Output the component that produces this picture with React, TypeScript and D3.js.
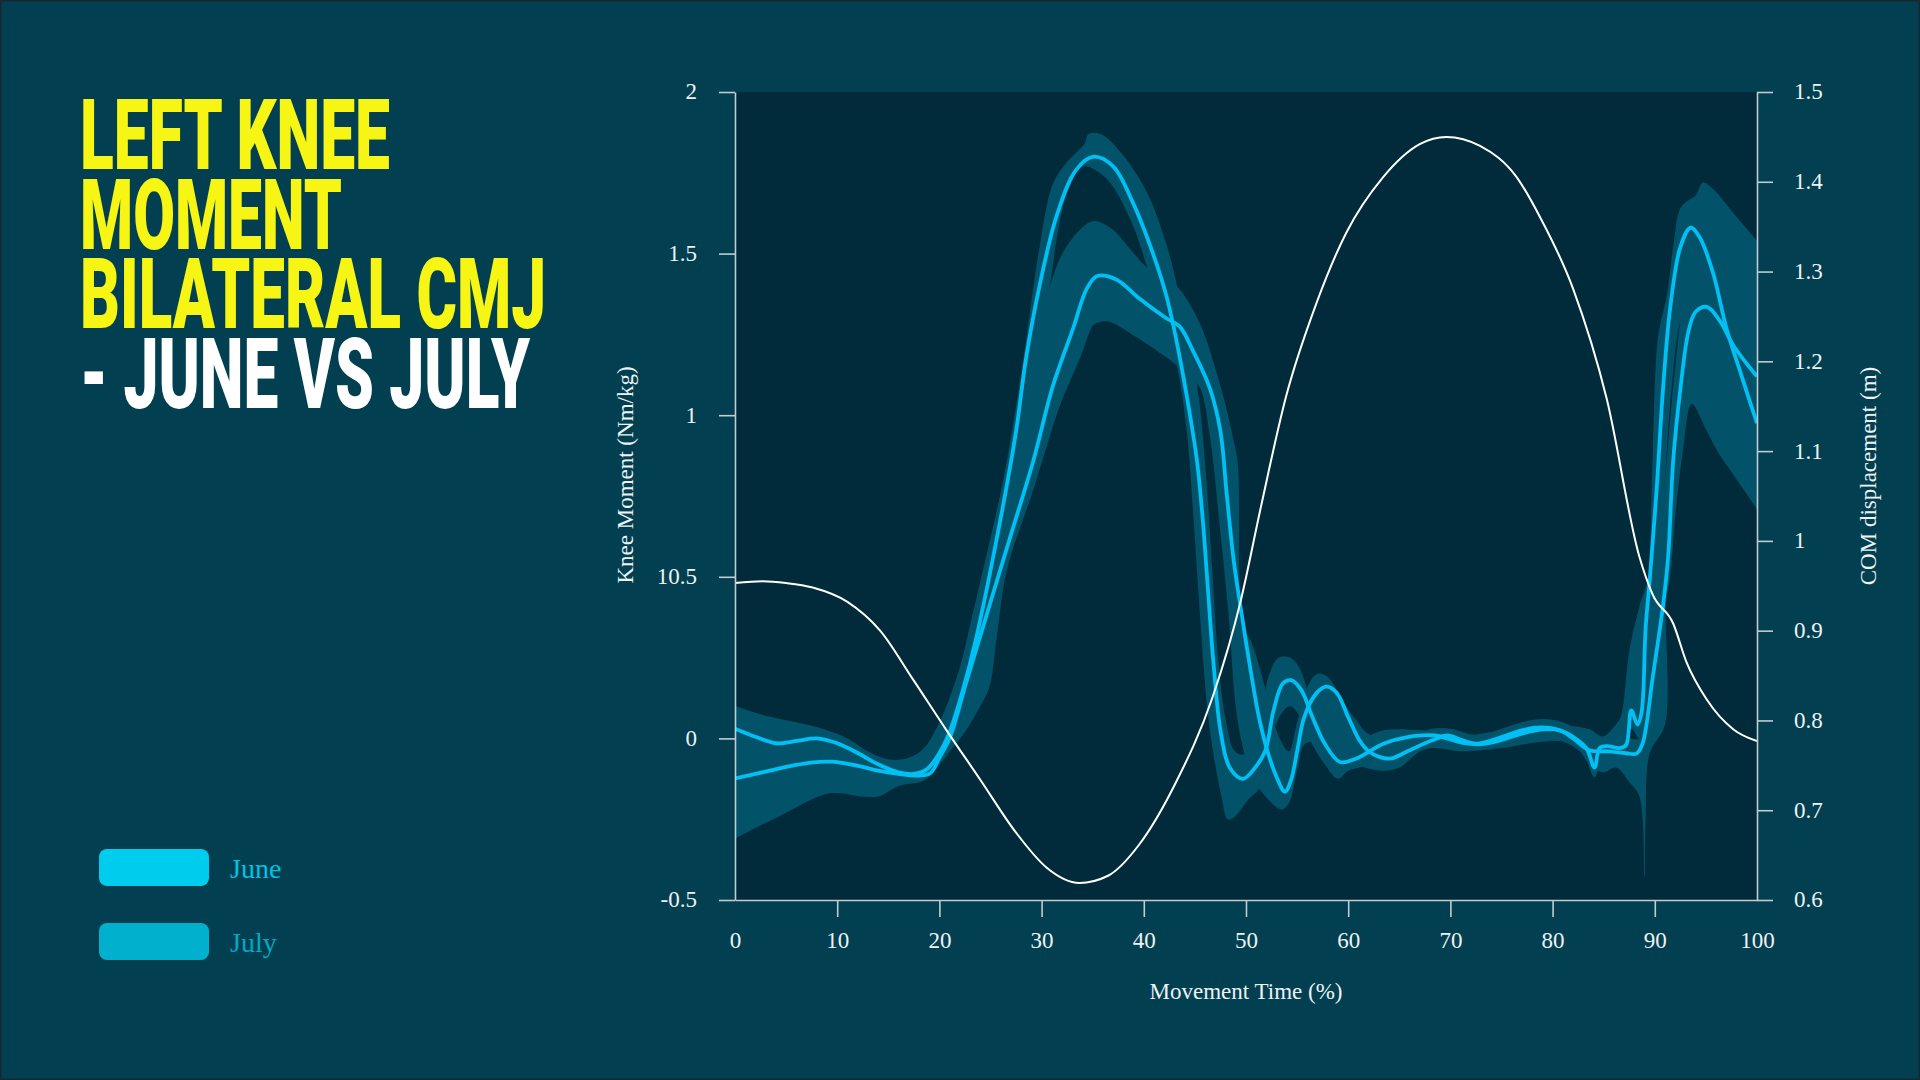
import * as d3 from "d3";
import React, { useEffect, useRef } from "react";

type Pt = [number, number];

// axis ticks
const xTicks = [0, 10, 20, 30, 40, 50, 60, 70, 80, 90, 100];
const leftTicks = [-0.5, 0, 0.5, 1, 1.5, 2];
const leftTickLabels = ["-0.5", "0", "10.5", "1", "1.5", "2"];
const rightTicks = [0.6, 0.7, 0.8, 0.9, 1, 1.1, 1.2, 1.3, 1.4, 1.5];
const rightTickLabels = ["0.6", "0.7", "0.8", "0.9", "1", "1.1", "1.2", "1.3", "1.4", "1.5"];

const titleLines = ["LEFT KNEE", "MOMENT", "BILATERAL CMJ", "- JUNE VS JULY"];
const legendLabels = ["June", "July"];

// knee moment (Nm/kg) vs movement time (%)
const juneLine: Pt[] = [
  [0, 0.03], [2, 0.005], [4, -0.015], [6, -0.008], [8, 0.0], [10, -0.015], [12, -0.045],
  [14, -0.08], [16, -0.105], [17.5, -0.11], [18.8, -0.095], [20, -0.045], [21, 0.02],
  [22.3, 0.15], [23.6, 0.31], [25.9, 0.665], [27.5, 0.95], [28.5, 1.18], [29.8, 1.4],
  [31.5, 1.62], [33.4, 1.76], [35.1, 1.8], [37, 1.77], [38.9, 1.66], [40.9, 1.5], [42.2, 1.37],
  [43.2, 1.23], [44.2, 1.06], [45.2, 0.86], [45.8, 0.665], [46.3, 0.45], [46.8, 0.24],
  [47.5, 0.025], [48.4, -0.09], [49.7, -0.125], [50.9, -0.09], [51.9, -0.037], [52.7, 0.087],
  [53.6, 0.17], [54.4, 0.18], [55.4, 0.15], [56.5, 0.066], [57.7, -0.016], [59.2, -0.073],
  [60.8, -0.062], [63.5, -0.016], [65.8, 0.004], [68.5, 0.009], [71.2, -0.014], [73, -0.018],
  [75, -0.005], [77, 0.015], [79, 0.028], [80.7, 0.025], [82, 0.005], [83.3, -0.03],
  [84.1, -0.09], [84.6, -0.03], [85.3, -0.024], [86.6, -0.03], [87.2, -0.02], [87.7, 0.087],
  [88.3, 0.043], [88.7, 0.08], [89.1, 0.34], [89.5, 0.49], [90.2, 0.78], [90.8, 1.08],
  [91.5, 1.33], [92.5, 1.52], [93.5, 1.58], [94.4, 1.55], [95.7, 1.44], [97, 1.27],
  [98.3, 1.14], [100, 0.975],
];

const julyLine: Pt[] = [
  [0, -0.124], [2, -0.11], [3.4, -0.1], [5.5, -0.085], [7.6, -0.074], [9.5, -0.072],
  [10.9, -0.078], [12.5, -0.088], [14, -0.1], [16, -0.11], [18, -0.115], [19.1, -0.108],
  [20, -0.06], [21, 0.0], [22.6, 0.17], [24.6, 0.38], [26.9, 0.62], [29.2, 0.86], [31.1, 1.09],
  [33.1, 1.27], [34.4, 1.39], [35.4, 1.43], [37.3, 1.42], [39.6, 1.36], [42.2, 1.3],
  [43.5, 1.275], [44.8, 1.2], [46.5, 1.08], [47.5, 0.95], [48.1, 0.76], [48.8, 0.55],
  [49.5, 0.4], [50.4, 0.22], [51.3, 0.06], [52.2, -0.05], [53, -0.12], [53.8, -0.165],
  [54.4, -0.13], [55, -0.04], [55.7, 0.066], [56.9, 0.14], [57.9, 0.16], [58.9, 0.14],
  [60, 0.066], [61.1, -0.006], [61.9, -0.037], [63.1, -0.058], [64.2, -0.062], [65.8, -0.04],
  [68.2, -0.006], [69.7, 0.009], [71.2, -0.006], [72.7, -0.016], [75, 0.004], [77, 0.025],
  [78.9, 0.034], [80.7, 0.025], [82, 0.0], [83.6, -0.037], [85.5, -0.04], [87.2, -0.046],
  [88.2, -0.047], [88.8, -0.016], [89.8, 0.19], [90.8, 0.41], [91.3, 0.56], [91.8, 0.86],
  [92.5, 1.08], [93.3, 1.26], [94, 1.32], [95.1, 1.335], [96.4, 1.29], [97.7, 1.215],
  [100, 1.12],
];

// spread bands (upper / lower edge)
const juneBandHi: Pt[] = [
  [0, 0.1], [3, 0.07], [6, 0.05], [8, 0.035], [11, 0.0], [13, -0.04], [15, -0.065], [17, -0.06],
  [18.5, -0.03], [20, 0.05], [21.5, 0.17], [22.7, 0.3], [24.6, 0.55], [26.6, 0.86], [28.2, 1.17],
  [29.8, 1.52], [31.1, 1.715], [32.4, 1.78], [34.2, 1.84], [34.6, 1.87], [35.8, 1.87],
  [37.7, 1.815], [40.3, 1.69], [42.2, 1.53], [43.4, 1.38], [44.6, 1.2], [45.4, 1.05],
  [46.1, 0.81], [46.7, 0.52], [47.3, 0.24], [48, 0.06], [48.9, -0.04], [49.8, -0.05],
  [50.8, -0.01], [51.5, 0.08], [52.3, 0.2], [53.2, 0.25], [54.3, 0.25], [55.2, 0.22],
  [56.3, 0.12], [57.5, 0.03], [58.8, -0.03], [60, -0.02], [61.5, 0.0], [63.5, 0.025],
  [67.3, 0.025], [71.2, 0.009], [75, 0.025], [78.9, 0.046], [81.5, 0.04], [83.6, 0.028],
  [84.9, 0.006], [86.2, 0.043], [86.7, 0.07], [87.5, 0.27], [88.5, 0.41], [89.3, 0.49],
  [89.7, 0.78], [90.1, 1.16], [90.4, 1.26], [91.2, 1.375], [91.8, 1.52], [92.5, 1.64],
  [93.3, 1.665], [94, 1.68], [94.7, 1.72], [95.7, 1.7], [97.7, 1.625], [100, 1.54],
];

const juneBandLo: Pt[] = [
  [0, -0.05], [3, -0.08], [6, -0.07], [9, -0.06], [12, -0.09], [15, -0.13], [17, -0.14],
  [18.5, -0.13], [19.5, -0.1], [21, -0.04], [22.6, 0.05], [24, 0.25], [26, 0.55], [28, 0.95],
  [29.5, 1.2], [30.8, 1.4], [31.5, 1.55], [32.4, 1.68], [33.4, 1.75], [34.2, 1.77], [36.4, 1.73],
  [38.9, 1.59], [40.3, 1.46], [41.5, 1.35], [43.2, 1.16], [44.2, 0.95], [44.9, 0.665],
  [45.5, 0.38], [46.2, 0.096], [46.8, -0.046], [47.6, -0.18], [48.2, -0.25], [48.8, -0.245],
  [50.2, -0.19], [51.4, -0.15], [52.2, -0.05], [53, 0.05], [54.3, 0.1], [55.4, 0.06],
  [56.5, -0.02], [57.7, -0.08], [59, -0.125], [60, -0.1], [61.6, -0.085], [63.5, -0.05],
  [66, -0.04], [68.5, -0.03], [71, -0.04], [75, -0.03], [79, -0.01], [81, -0.01], [83, -0.05],
  [84.1, -0.12], [85, -0.06], [86.6, -0.06], [87.7, 0.03], [88.5, 0.0], [89.5, 0.1],
  [90.3, 0.45], [91, 0.8], [91.7, 1.1], [92.6, 1.3], [93.6, 1.35], [95, 1.25], [97, 1.05],
  [100, 0.8],
];

const julyBandHi: Pt[] = [
  [0, 0.0], [4, -0.01], [8, 0.0], [12, -0.03], [15, -0.07], [17, -0.08], [18.5, -0.06],
  [20, 0.02], [21.5, 0.15], [23, 0.35], [25, 0.62], [27, 0.9], [29, 1.2], [30.8, 1.4],
  [32.4, 1.52], [35, 1.6], [36.9, 1.575], [38.5, 1.52], [40.2, 1.46], [42, 1.42], [43.2, 1.4],
  [45.4, 1.29], [47.5, 1.09], [48.8, 0.92], [49.2, 0.85], [49.35, 0.5], [49.6, 0.35],
  [50.5, 0.3], [51.5, 0.2], [52.5, 0.08], [53.3, 0.0], [54.2, -0.04], [55, 0.05], [56, 0.16],
  [57, 0.2], [58, 0.19], [59.6, 0.108], [60.8, 0.056], [61.9, 0.015], [63.5, 0.0],
  [65.8, 0.0], [68.2, 0.03], [70, 0.03], [72.7, 0.01], [75, 0.03], [77, 0.05], [79, 0.06],
  [81, 0.05], [83, 0.02], [85.5, 0.0], [87.5, 0.0], [88.5, 0.0], [89, 0.05], [90, 0.45],
  [91, 0.8], [92, 1.15], [93, 1.38], [94, 1.45], [95.5, 1.45], [97, 1.4], [100, 1.3],
];

const julyBandLo: Pt[] = [
  [0, -0.31], [4.4, -0.24], [9.3, -0.17], [12.5, -0.18], [14, -0.18], [15.8, -0.15],
  [17.8, -0.13], [19.3, -0.09], [21, -0.04], [22.6, 0.025], [24, 0.1], [24.9, 0.16],
  [25.6, 0.31], [26.6, 0.52], [29.2, 0.77], [31.8, 1.03], [33.8, 1.18], [34.6, 1.25],
  [35.1, 1.28], [36.5, 1.29], [39.1, 1.245], [41.7, 1.19], [43, 1.16], [44.2, 1.12],
  [45.4, 1.09], [46.4, 0.95], [47.4, 0.665], [48.3, 0.38], [49, 0.096], [49.7, -0.03],
  [50.5, -0.12], [51.4, -0.16], [52.5, -0.2], [53.5, -0.22], [54.2, -0.2], [55, -0.1],
  [55.7, -0.02], [56.9, -0.01], [58.1, -0.05], [59, -0.06], [60, -0.07], [61.6, -0.09],
  [63.5, -0.1], [65, -0.09], [67.3, -0.037], [71.2, -0.016], [75, -0.016], [78.9, -0.006],
  [82, -0.016], [83.6, -0.08], [84.9, -0.105], [86.2, -0.09], [87.5, -0.135], [88.5, -0.18],
  [89, -0.43], [89.1, -0.25], [89.5, -0.046], [91, 0.043], [91.1, 0.42], [91.5, 0.5],
  [92.1, 0.72], [92.8, 0.9], [93.6, 1.035], [95.1, 0.95], [96.1, 0.89], [97.7, 0.815],
  [100, 0.71],
];

// centre of mass displacement (m), right axis
const comLine: Pt[] = [
  [0, 0.953], [2.7, 0.955], [5, 0.953], [7.6, 0.948], [11, 0.932], [14.2, 0.9], [17.4, 0.846],
  [20.7, 0.789], [24, 0.734], [27.5, 0.675], [30.5, 0.636], [33.7, 0.619], [36.5, 0.627],
  [39.5, 0.661], [43.1, 0.73], [46.7, 0.825], [49.5, 0.934], [51.5, 1.04], [53.9, 1.16],
  [56.9, 1.265], [59.8, 1.343], [63.4, 1.405], [67, 1.442], [69.6, 1.45], [72.9, 1.44],
  [76.5, 1.405], [78.8, 1.36], [82, 1.281], [85.3, 1.158], [88.5, 0.982], [89.8, 0.94],
  [91.8, 0.908], [93.1, 0.865], [95.1, 0.823], [97.7, 0.79], [100, 0.777],
];

const W = 1920;
const H = 1080;
const plot = { left: 735, right: 1757, top: 92, bottom: 900 };

const colors = {
  page: "#013f51",
  plotBg: "#012b3a",
  band: "#02536a",
  line: "#00c0f4",
  com: "#ffffff",
  axis: "#c3ccd0",
  text: "#eef2f3",
  yellow: "#f6f514",
  legend: ["#00cdee", "#00b0cc"],
  legendText: ["#00c4e2", "#00aac6"],
};

const serif = "'Liberation Serif', 'DejaVu Serif', serif";

const App: React.FC = () => {
  const svgRef = useRef<SVGSVGElement | null>(null);

  useEffect(() => {
    renderChart();
  }, []);

  const renderChart = () => {
    const svg = d3.select(svgRef.current);
    svg.selectAll("*").remove();

    const x = d3.scaleLinear().domain([0, 100]).range([plot.left, plot.right]);
    const yL = d3.scaleLinear().domain([-0.5, 2]).range([plot.bottom, plot.top]);
    const yR = d3.scaleLinear().domain([0.6, 1.5]).range([plot.bottom, plot.top]);

    svg.append("rect").attr("width", W).attr("height", H).attr("fill", colors.page)
      .attr("stroke", "#17272d").attr("stroke-width", 3);

    svg.append("rect")
      .attr("x", plot.left).attr("y", plot.top)
      .attr("width", plot.right - plot.left).attr("height", plot.bottom - plot.top)
      .attr("fill", colors.plotBg);

    const defs = svg.append("defs");
    defs.append("clipPath").attr("id", "plot-clip")
      .append("rect")
      .attr("x", plot.left).attr("y", plot.top)
      .attr("width", plot.right - plot.left).attr("height", plot.bottom - plot.top);

    const curve = d3.curveCatmullRom.alpha(0.5);
    const lineL = d3.line<Pt>().x((d) => x(d[0])).y((d) => yL(d[1])).curve(curve);
    const lineR = d3.line<Pt>().x((d) => x(d[0])).y((d) => yR(d[1])).curve(d3.curveMonotoneX);

    const bandPath = (hi: Pt[], lo: Pt[]) => {
      const top = lineL(hi) as string;
      const bottom = lineL([...lo].reverse()) as string;
      return top + "L" + bottom.slice(1) + "Z";
    };

    const data = svg.append("g").attr("clip-path", "url(#plot-clip)");

    data.selectAll("path.band")
      .data([
        [juneBandHi, juneBandLo],
        [julyBandHi, julyBandLo],
      ])
      .enter()
      .append("path")
      .attr("class", "band")
      .attr("d", (d) => bandPath(d[0], d[1]))
      .attr("fill", colors.band);

    data.selectAll("path.series")
      .data([juneLine, julyLine])
      .enter()
      .append("path")
      .attr("class", "series")
      .attr("d", (d) => lineL(d))
      .attr("fill", "none")
      .attr("stroke", colors.line)
      .attr("stroke-width", 3.8)
      .attr("stroke-linejoin", "round");

    data.append("path")
      .attr("d", lineR(comLine))
      .attr("fill", "none")
      .attr("stroke", colors.com)
      .attr("stroke-width", 2);

    // axes
    const styleAxis = (g: d3.Selection<SVGGElement, unknown, null, undefined>) => {
      g.attr("font-family", serif).attr("font-size", 23).attr("color", colors.text);
      g.select(".domain").attr("stroke", colors.axis).attr("stroke-width", 1.6);
      g.selectAll(".tick line").attr("stroke", colors.axis).attr("stroke-width", 1.6);
      g.selectAll(".tick text").attr("fill", colors.text);
    };

    const gL = svg.append("g")
      .attr("transform", `translate(${plot.left},0)`)
      .call(
        d3.axisLeft(yL)
          .tickValues(leftTicks)
          .tickFormat((_, i) => leftTickLabels[i])
          .tickSize(16)
          .tickSizeOuter(0)
          .tickPadding(22)
      );
    styleAxis(gL);
    gL.selectAll(".tick text").attr("dy", "0.3em");

    const gB = svg.append("g")
      .attr("transform", `translate(0,${plot.bottom})`)
      .call(
        d3.axisBottom(x)
          .tickValues(xTicks)
          .tickFormat((d) => String(d))
          .tickSize(17)
          .tickSizeOuter(0)
          .tickPadding(15)
      );
    styleAxis(gB);
    gB.selectAll<SVGGElement, number>(".tick")
      .filter((d) => d === 0 || d === 100)
      .select("line")
      .remove();

    const gR = svg.append("g")
      .attr("transform", `translate(${plot.right},0)`)
      .call(
        d3.axisRight(yR)
          .tickValues(rightTicks)
          .tickFormat((_, i) => rightTickLabels[i])
          .tickSize(16)
          .tickSizeOuter(0)
          .tickPadding(21)
      );
    styleAxis(gR);
    gR.selectAll(".tick text").attr("dy", "0.3em");

    // axis titles
    svg.append("text")
      .attr("transform", "translate(633,475) rotate(-90)")
      .attr("text-anchor", "middle")
      .attr("font-family", serif)
      .attr("font-size", 23)
      .attr("fill", colors.text)
      .text("Knee Moment (Nm/kg)");

    svg.append("text")
      .attr("x", (plot.left + plot.right) / 2)
      .attr("y", 999)
      .attr("text-anchor", "middle")
      .attr("font-family", serif)
      .attr("font-size", 23)
      .attr("fill", colors.text)
      .text("Movement Time (%)");

    svg.append("text")
      .attr("transform", "translate(1876,476) rotate(-90)")
      .attr("text-anchor", "middle")
      .attr("font-family", serif)
      .attr("font-size", 23)
      .attr("fill", colors.text)
      .text("COM displacement (m)");

    // title
    const titleWidths = [310, 262, 466, 450];
    svg.append("g")
      .selectAll("text")
      .data(titleLines)
      .enter()
      .append("text")
      .attr("x", 80)
      .attr("y", (_, i) => 169 + i * 79.7)
      .attr("font-family", "Roboto, 'DejaVu Sans', sans-serif")
      .attr("font-weight", 900)
      .attr("font-size", 99)
      .attr("textLength", (_, i) => titleWidths[i])
      .attr("lengthAdjust", "spacingAndGlyphs")
      .attr("fill", (_, i) => (i < 3 ? colors.yellow : "#ffffff"))
      .text((d) => d);

    // legend
    const legend = svg.append("g")
      .selectAll("g")
      .data(legendLabels)
      .enter()
      .append("g")
      .attr("transform", (_, i) => `translate(99,${849 + i * 74})`);

    legend.append("rect")
      .attr("width", 110)
      .attr("height", 37)
      .attr("rx", 8)
      .attr("fill", (_, i) => colors.legend[i]);

    legend.append("text")
      .attr("x", 131)
      .attr("y", 29)
      .attr("font-family", serif)
      .attr("font-size", 28)
      .attr("fill", (_, i) => colors.legendText[i])
      .text((d) => d);
  };

  return (
    <svg
      ref={svgRef}
      width={W}
      height={H}
      style={{ position: "absolute", left: 0, top: 0, display: "block" }}
    ></svg>
  );
};

export default App;
